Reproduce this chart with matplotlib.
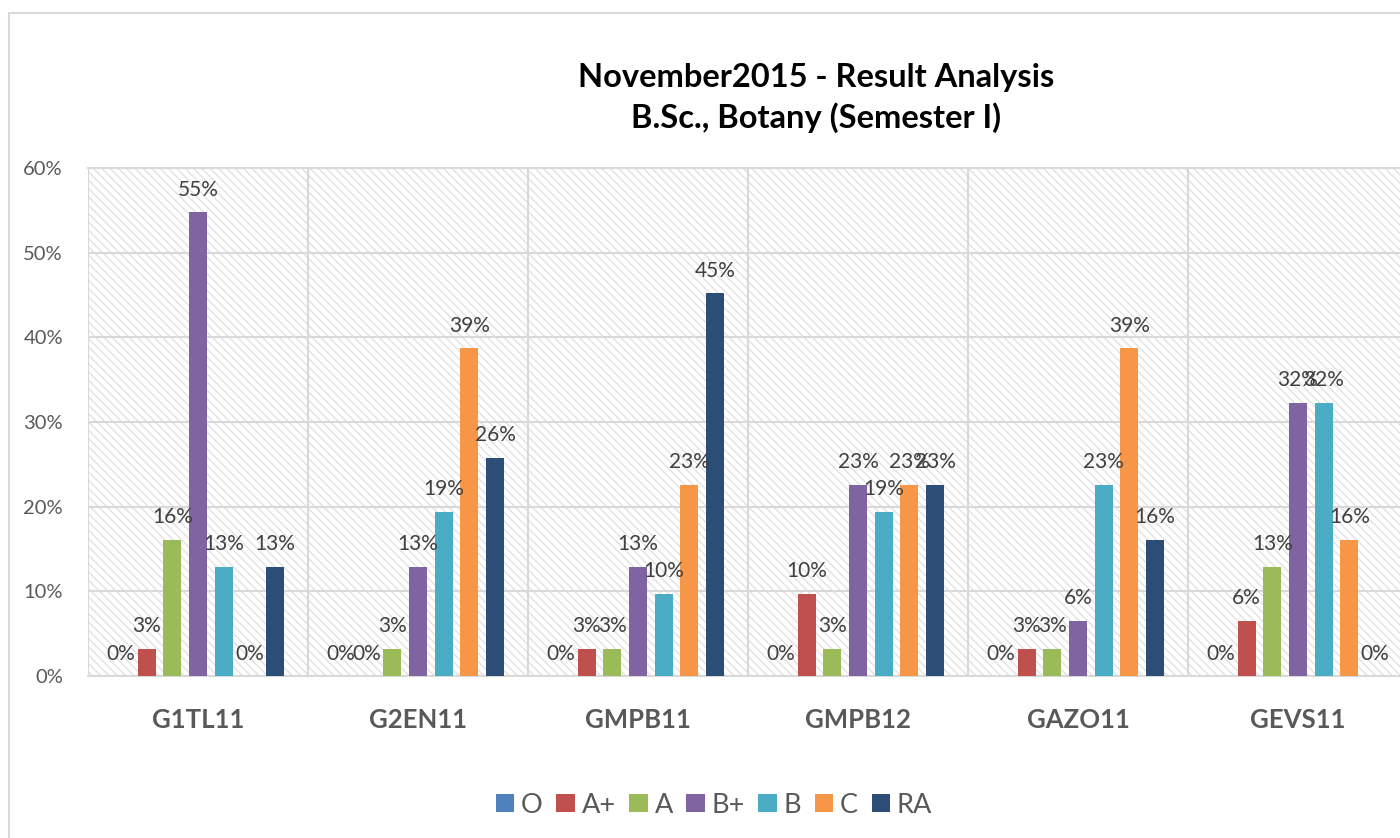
import matplotlib
matplotlib.use("Agg")
import matplotlib.pyplot as plt
from matplotlib.patches import Rectangle, Patch
import numpy as np

# Result analysis data (percent of students per grade)
subjects = ["G1TL11", "G2EN11", "GMPB11", "GMPB12", "GAZO11", "GEVS11"]
grades = ["O", "A+", "A", "B+", "B", "C", "RA"]
o_pct = [0.0, 0.0, 0.0, 0.0, 0.0, 0.0]
aplus_pct = [3.2, 0.0, 3.2, 9.7, 3.2, 6.5]
a_pct = [16.1, 3.2, 3.2, 3.2, 3.2, 12.9]
bplus_pct = [54.8, 12.9, 12.9, 22.6, 6.5, 32.3]
b_pct = [12.9, 19.4, 9.7, 19.4, 22.6, 32.3]
c_pct = [0.0, 38.7, 22.6, 22.6, 38.7, 16.1]
ra_pct = [12.9, 25.8, 45.2, 22.6, 16.1, 0.0]
yticks = [0, 10, 20, 30, 40, 50, 60]

series = [o_pct, aplus_pct, a_pct, bplus_pct, b_pct, c_pct, ra_pct]
colors = ["#4F81BD", "#C0504D", "#9BBB59", "#8064A2", "#4BACC6", "#F79646", "#2C4D75"]

plt.rcParams["font.family"] = ["Lato", "DejaVu Sans"]

fig = plt.figure(figsize=(14, 8.38), dpi=100)

# chart frame
frame = Rectangle((9 / 1400, -0.1), 1.2, 1 - 13 / 838 + 0.1, transform=fig.transFigure,
                  facecolor="none", edgecolor="#d9d9d9", linewidth=1.5, zorder=0)
fig.patches.append(frame)

ax = fig.add_axes([88 / 1400, 1 - 676 / 838, 1320 / 1400, (676 - 168) / 838])
ax.set_facecolor("white")

# hatched plot area
bg = Rectangle((0, 0), 1, 1, transform=ax.transAxes, facecolor="white",
               edgecolor="#e2e2e2", linewidth=0, hatch="\\\\\\\\", zorder=0)
ax.add_patch(bg)

x = np.arange(len(subjects))
slot = 25.7 / 220
width = 18 / 220
for i, (vals, col, g) in enumerate(zip(series, colors, grades)):
    pos = x + (i - 3) * slot
    bars = ax.bar(pos, vals, width=width, color=col, label=g, zorder=3)
    for b, v in zip(bars, vals):
        ax.annotate(f"{v:.0f}%", (b.get_x() + b.get_width() / 2, v),
                    xytext=(0, 9), textcoords="offset points",
                    ha="center", va="bottom", fontsize=15, color="#404040", zorder=4)

ax.set_xlim(-0.5, len(subjects) - 0.5)
ax.set_ylim(0, 60)
ax.set_yticks(yticks)
ax.set_yticklabels([f"{t}%" for t in yticks])
ax.set_xticks(x)
ax.set_xticklabels(subjects, fontweight="bold")
ax.set_xticks(np.arange(-0.5, len(subjects)), minor=True)
ax.tick_params(axis="y", length=0, pad=18, labelsize=14.5, labelcolor="#595959")
ax.tick_params(axis="x", which="major", length=0, pad=23, labelsize=18.5, labelcolor="#595959")
ax.tick_params(axis="x", which="minor", length=0)
ax.grid(axis="y", color="#d9d9d9", linewidth=1.5, zorder=1)
ax.grid(axis="x", which="minor", color="#d9d9d9", linewidth=1.5, zorder=1)
ax.grid(axis="x", which="major", visible=False)
ax.set_axisbelow(True)
for s in ["left", "right"]:
    ax.spines[s].set_visible(False)
ax.spines["top"].set_color("#d9d9d9")
ax.spines["top"].set_linewidth(1.5)
ax.spines["bottom"].set_color("#d9d9d9")
ax.spines["bottom"].set_linewidth(1.5)

fig.text(816 / 1400, 1 - 98 / 838, "November2015 - Result Analysis\nB.Sc., Botany (Semester I)",
         ha="center", va="center", multialignment="center", fontsize=23.5,
         fontweight="bold", color="black", linespacing=1.4)

handles = [Patch(facecolor=c, edgecolor="none", label=g) for c, g in zip(colors, grades)]
fig.legend(handles=handles, loc="center", bbox_to_anchor=(714 / 1400, 1 - 805 / 838),
           ncol=7, frameon=False, fontsize=19.5, handlelength=0.68, handleheight=0.68,
           handletextpad=0.25, columnspacing=0.5, labelcolor="#595959")

fig.savefig("out.png", dpi=100)
